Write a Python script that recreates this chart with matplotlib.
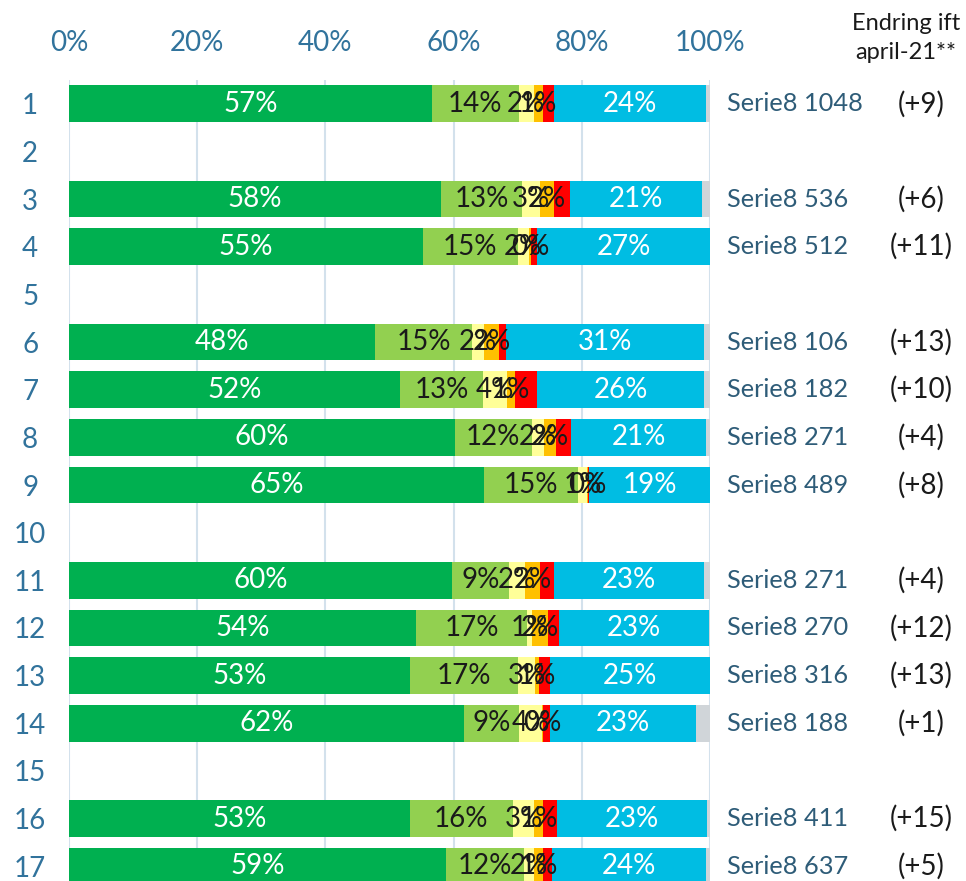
import numpy as np
import matplotlib
matplotlib.use("Agg")
import matplotlib.pyplot as plt

plt.rcParams['font.family'] = ['Lato', 'DejaVu Sans']

rows = list(range(1, 18))
# values per row (None = empty row)
dark_green  = [56.6, None, 58.0, 55.2, None, 47.7, 51.6, 60.2, 64.7, None, 59.8, 54.1, 53.2, 61.6, None, 53.2, 58.8]
light_green = [13.6, None, 12.7, 14.8, None, 15.2, 13.0, 12.0, 14.7, None, 8.9, 17.4, 16.9, 8.6, None, 16.0, 12.2]
yellow      = [2.3, None, 2.8, 1.7, None, 1.8, 3.7, 1.9, 1.4, None, 2.4, 0.8, 2.6, 3.6, None, 3.4, 1.6]
orange      = [1.4, None, 2.2, 0.4, None, 2.4, 1.3, 1.9, 0.2, None, 2.4, 2.4, 0.6, 0.1, None, 1.3, 1.4]
red         = [1.8, None, 2.4, 0.9, None, 1.0, 3.4, 2.3, 0.2, None, 2.2, 1.8, 1.7, 1.2, None, 2.3, 1.3]
cyan        = [23.7, None, 20.7, 27.0, None, 31.0, 26.1, 21.1, 18.8, None, 23.4, 23.4, 25.0, 22.7, None, 23.3, 24.1]
grey        = [0.6, None, 1.2, 0.0, None, 0.9, 0.9, 0.6, 0.0, None, 0.9, 0.1, 0.0, 2.2, None, 0.5, 0.6]

serie_n = [1048, None, 536, 512, None, 106, 182, 271, 489, None, 271, 270, 316, 188, None, 411, 637]
change  = ["(+9)", None, "(+6)", "(+11)", None, "(+13)", "(+10)", "(+4)", "(+8)", None,
           "(+4)", "(+12)", "(+13)", "(+1)", None, "(+15)", "(+5)"]

x_ticks = [0, 20, 40, 60, 80, 100]
x_tick_labels = ["0%", "20%", "40%", "60%", "80%", "100%"]

series = [dark_green, light_green, yellow, orange, red, cyan, grey]
colors = ["#00B050", "#92D050", "#FFFF99", "#FFC000", "#FF0000", "#00BDE3", "#D0D5D9"]
label_colors = ["white", "#1a1a1a", "#1a1a1a", "#1a1a1a", None, "white", None]

W, H = 966, 881
fig = plt.figure(figsize=(W / 100, H / 100), dpi=100)
ax = fig.add_axes([69 / W, 0, (710 - 69) / W, 1 - 80 / H])

tick_color = "#31739C"
fs = 20

left = np.zeros(len(rows))
for vals, col, lc in zip(series, colors, label_colors):
    v = np.array([np.nan if x is None else x for x in vals], dtype=float)
    valid = ~np.isnan(v)
    y = np.array(rows)[valid]
    ax.barh(y, v[valid], left=left[valid], height=0.77, color=col, zorder=3, linewidth=0)
    if lc is not None:
        for yi, vi, li in zip(y, v[valid], left[valid]):
            ax.text(li + vi / 2, yi, f"{int(round(vi))}%", ha="center", va="center",
                    color=lc, fontsize=fs, zorder=4)
    left[valid] += v[valid]

ax.set_xlim(0, 100)
ax.set_ylim(17.31, 0.5)
ax.set_xticks(x_ticks)
ax.set_xticklabels(x_tick_labels)
ax.xaxis.tick_top()
ax.tick_params(axis="x", length=0, pad=17, labelsize=fs, labelcolor=tick_color)
ax.set_yticks(rows)
ax.set_yticklabels([str(r) for r in rows])
ax.tick_params(axis="y", length=0, pad=28, labelsize=fs, labelcolor=tick_color)
for lab in ax.get_yticklabels():
    lab.set_horizontalalignment("center")
ax.grid(axis="x", color="#D3E1EC", linewidth=1.5, zorder=0)
ax.grid(axis="y", visible=False)
for s in ax.spines.values():
    s.set_visible(False)

for r, n, c in zip(rows, serie_n, change):
    if n is None:
        continue
    ax.text(102.6, r, f"Serie8 {n}", ha="left", va="center", fontsize=18.3,
            color="#2E5C78", clip_on=False)
    ax.text(133.0, r, c, ha="center", va="center", fontsize=fs, color="#1a1a1a", clip_on=False)

fig.text(906 / W, 1 - 38 / H, "Endring ift\napril-21**", ha="center", va="center",
         fontsize=17, color="#1a1a1a", linespacing=1.5)

fig.savefig("out.png", dpi=100)
